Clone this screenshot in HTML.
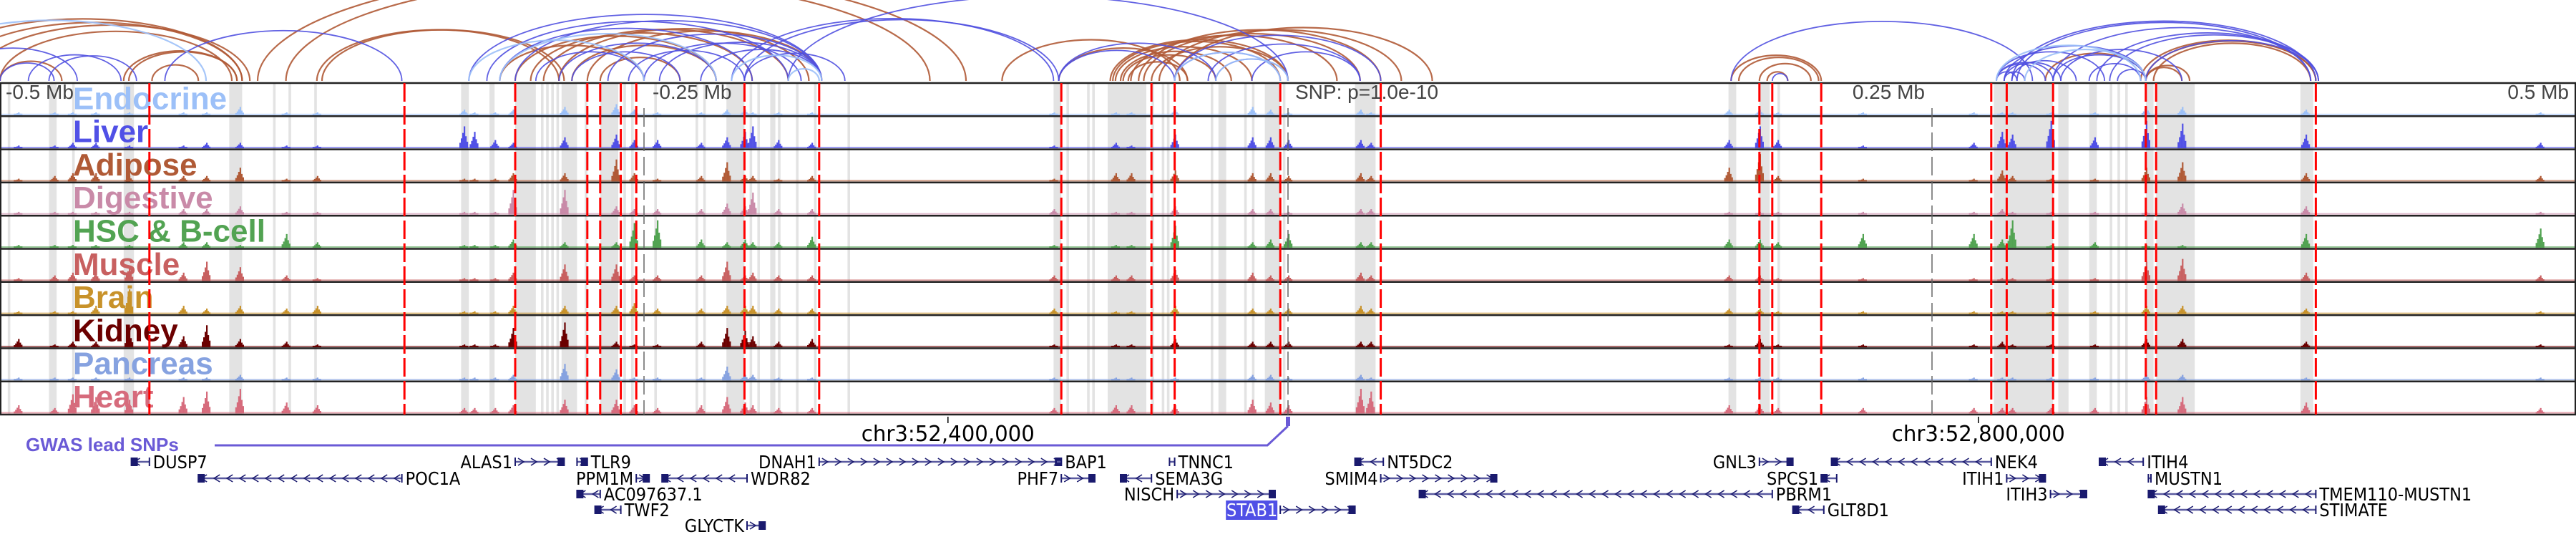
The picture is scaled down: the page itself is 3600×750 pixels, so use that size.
<!DOCTYPE html>
<html><head><meta charset="utf-8">
<style>
html,body{margin:0;padding:0;background:#fff;}
svg{display:block;}
text{font-family:"Liberation Sans","DejaVu Sans",sans-serif;}
.nar{font-family:"Liberation Sans Narrow","DejaVu Sans Condensed","Liberation Sans",sans-serif;}
</style></head>
<body>
<svg id="chart" width="3600" height="750" viewBox="0 0 3600 750" xmlns="http://www.w3.org/2000/svg">
<g id="bands"></g>
<g id="arcs"></g>
<g id="tracks"></g>
<g id="snplines"></g>
<g id="axis"></g>
<g id="genes"></g>
</svg>
<script>
// ---- data (positions in kb relative to lead SNP) ----
const trackNames = ["Endocrine","Liver","Adipose","Digestive","HSC & B-cell","Muscle","Brain","Kidney","Pancreas","Heart"];
const trackColors = ["#9cc0f8","#5050e6","#b05a36","#c98aa8","#52a352","#c86060","#c8922a","#6b0000","#86a2e0","#d66b7c"];
const peakPos = [-493,-479,-472,-463,-450,-429,-420,-407,-389,-377,-320,-316,-308,-301,-281,-261,-254,-245,-228,-218,-211,-208,-198,-185,-91,-67,-61,-44,-14,-7,0,28,32,171,183,190,223,266,277,281,296,313,333,347,395,486];
const hEndocrine = [1,1,1,1,1,1,1,3,1,1,2,1,1,2,3,4,2,1,1,2,2,1,1,1,1,1,1,2,3,2,1,2,1,2,2,1,1,1,1,1,1,1,3,3,2,1];
const hLiver     = [1,1,2,2,1,1,2,2,1,1,8,6,3,2,4,5,3,3,2,4,6,8,3,2,1,2,1,5,4,4,3,3,2,3,8,3,1,2,6,5,10,4,10,9,5,2];
const hAdipose   = [1,2,3,3,2,2,2,5,1,2,1,1,1,3,3,8,3,1,2,7,2,2,1,2,1,3,3,4,3,3,2,3,2,5,10,2,1,1,4,2,1,1,5,7,3,2];
const hDigestive = [1,1,1,1,1,2,2,3,1,1,1,1,1,9,9,3,2,2,2,4,3,8,2,2,2,1,1,3,2,2,1,2,2,1,1,1,1,1,2,1,1,1,1,4,3,1];
const hHSC       = [1,1,1,1,1,2,2,1,5,2,1,1,1,3,2,2,9,10,3,2,3,2,2,4,1,1,1,8,2,3,5,2,2,3,3,2,5,5,3,10,1,2,1,1,5,7];
const hMuscle    = [1,2,3,3,5,3,7,5,2,1,1,1,1,3,6,6,2,2,2,7,2,3,2,2,2,2,2,4,3,2,2,3,2,2,2,1,1,1,1,1,1,1,7,8,3,2];
const hBrain     = [1,1,1,3,9,3,2,3,2,3,1,1,1,3,3,3,4,2,2,3,3,3,2,2,2,1,1,3,2,2,2,3,2,2,2,1,1,1,1,1,1,1,3,3,2,1];
const hKidney    = [3,1,2,2,6,4,8,3,2,1,1,1,1,7,9,2,1,1,2,7,6,4,2,3,1,1,1,3,2,2,2,2,2,1,3,1,1,1,2,1,1,1,3,3,2,1];
const hPancreas  = [1,1,1,1,1,1,1,2,1,1,1,1,1,2,6,4,1,1,1,5,2,2,1,1,1,1,1,1,2,2,1,2,1,1,1,1,1,1,1,1,1,1,2,2,1,1];
const hHeart     = [3,2,7,6,5,6,8,9,4,3,2,2,2,3,5,5,3,2,3,6,4,3,2,2,2,3,3,3,5,4,3,9,8,3,3,2,2,2,2,2,2,2,6,6,4,2];
const trackHeights = [hEndocrine,hLiver,hAdipose,hDigestive,hHSC,hMuscle,hBrain,hKidney,hPancreas,hHeart];
const snpPos = [-442,-343,-300,-272,-267,-259,-253,-211,-182,-88,-53,-44,-3,36,183,188,207,273,279,297,333,337,399];
const bandStart = [-497,-481,-472,-452,-411,-394,-388,-378,-321,-310,-300,-290,-288,-286,-284,-282,-273,-267,-258,-255,-246,-230,-227,-218,-209,-206,-201,-198,-191,-184,-171,-91,-86,-78,-76,-70,-53,-49,-47,-30,-27,-17,-14,-9,-2,26,171,183,190,274,299,311,319,322,325,333,337,393];
const bandEnd   = [-496,-478,-471,-448,-406,-393,-387,-377,-318,-308,-292,-289,-287,-285,-283,-276,-272,-260,-257,-254,-245,-229,-226,-211,-208,-205,-199,-197,-190,-183,-170,-88,-85,-77,-75,-55,-52,-48,-46,-29,-24,-16,-13,-3,-1,34,174,187,191,297,303,314,320,323,326,336,352,398];
const arcE = [[-540,-420],[-318,-250],[-306,-222],[-216,-181],[-194,-182],[-44,-3],[-28,0],[275,331],[286,333]];
const arcA = [[-530,-406],[-520,-406],[-510,-403],[-500,-410],[-452,-408],[-450,-408],[-441,-423],[-500,-476],[-377,-283],[-375,-281],[-389,-139],[-400,-125],[-306,-250],[-300,-222],[-294,-208],[-289,-194],[-283,-186],[-278,-222],[-272,-181],[-267,-236],[-69,0],[-68,-3],[-67,-14],[-65,-22],[-64,-28],[-62,-39],[-61,19],[-58,36],[-56,28],[-53,0],[-50,44],[-44,56],[-89,-39],[-111,-42],[172,207],[175,206],[183,203],[186,194],[294,333],[333,347],[333,350],[331,399],[333,399],[336,397]];
const arcL = [[-500,-479],[-489,-453],[-481,-447],[-436,-344],[-520,-470],[-318,-181],[-311,-194],[-306,-208],[-300,-181],[-292,-250],[-283,-222],[-278,-236],[-264,-181],[-256,-211],[-250,-189],[-244,-181],[-228,-181],[-211,-172],[-216,-91],[-211,-89],[-194,0],[-89,-44],[-89,-28],[-44,-3],[-31,28],[-28,0],[-14,28],[-44,36],[172,289],[188,194],[275,297],[275,294],[278,300],[281,306],[275,317],[278,333],[297,333],[300,347],[314,400],[319,400],[333,400],[281,399],[283,397],[297,397],[311,331],[322,333],[275,283],[278,286]];
const axisTicks = [-500,-250,0,250,500];
const axisLabels = ["-0.5 Mb","-0.25 Mb","SNP: p=1.0e-10","0.25 Mb","0.5 Mb"];
const chrTicks = [-132,268];
const chrLabels = ["chr3:52,400,000","chr3:52,800,000"];
const geneNames  = ["DUSP7","POC1A","ALAS1","TLR9","PPM1M","AC097637.1","TWF2","WDR82","GLYCTK","DNAH1","BAP1","PHF7","TNNC1","SEMA3G","NISCH","STAB1","NT5DC2","SMIM4","PBRM1","GNL3","SPCS1","GLT8D1","NEK4","ITIH1","ITIH3","ITIH4","MUSTN1","TMEM110-MUSTN1","STIMATE"];
const geneStart  = [-449,-423,-300,-276,-253,-276,-269,-243,-210,-182,-90,-88,-46,-65,-43,-3,26,36,51,183,207,196,211,279,296,315,334,334,338];
const geneEnd    = [-442,-344,-281,-272,-248,-267,-259,-210,-203,-88,-88,-75,-44,-53,-5,26,37,81,188,196,213,208,273,294,310,332,335,399,399];
const geneRow    = [0,1,0,0,1,2,3,1,4,0,0,1,0,1,2,3,0,1,2,0,1,3,0,1,2,0,1,2,3];
const geneStrand = [-1,-1,1,1,1,-1,-1,-1,1,1,-1,1,-1,-1,1,1,-1,1,-1,1,-1,-1,-1,1,1,-1,-1,-1,-1];
const geneLabelLeft = [0,0,1,0,1,0,0,0,1,1,0,1,0,0,1,1,0,1,0,1,1,0,0,1,1,0,0,0,0];

// ---- scales ----
const NS="http://www.w3.org/2000/svg";
const X0=1800, PXKB=3.6;
function xs(kb){return X0+kb*PXKB;}
const TOP=116, TH=46.3, NT=10, BOT=TOP+TH*NT;
const ARCBASE=113;
const ROWY=[645,668,690,712,734];
function mk(tag,attrs,parent){const e=document.createElementNS(NS,tag);for(const k in attrs)e.setAttribute(k,attrs[k]);parent.appendChild(e);return e;}

// bands
const gB=document.getElementById('bands');
bandStart.forEach((s,i)=>{
  const r=mk('rect',{x:xs(s),y:TOP,width:Math.max(3,xs(bandEnd[i])-xs(s)),height:BOT-TOP,fill:'#e3e3e3'},gB);
  
  
});

// arcs
const gA=document.getElementById('arcs');
function drawArcs(list,color,w,name){
  list.forEach(a=>{
    const x1=xs(a[0]),x2=xs(a[1]);const span=x2-x1;
    const h=1.21*Math.pow(span,0.7);
    const p=mk('path',{d:`M${x1},${ARCBASE} A${span/2},${h} 0 0 1 ${x2},${ARCBASE}`,fill:'none',stroke:color,'stroke-width':w,opacity:0.9},gA);
    
    
  });
}
drawArcs(arcA,'#b05a36',2.2,'adipose-arc');
drawArcs(arcL,'#5050e0',1.8,'liver-arc');
drawArcs(arcE,'#9cc0f8',2.2,'endocrine-arc');

// tracks
const gT=document.getElementById('tracks');
trackNames.forEach((nm,t)=>{
  const y0=TOP+t*TH, yb=y0+TH-1.5, col=trackColors[t], hs=trackHeights[t];
  const g=mk('g',{},gT);
  
  
  const base=mk('rect',{x:0,y:yb-2,width:3600,height:2,fill:col,opacity:0.6},g);
  
  
  const unit=(TH-8)/10;
  peakPos.forEach((p,i)=>{
    const h=hs[i]*unit, cx=xs(p);
    const parts=[[-6,0.25],[-4,0.45],[-2,0.7],[0,1],[2,0.55],[4,0.3]];
    parts.forEach(q=>{
      const hh=Math.max(2,h*q[1]);
      const b=mk('rect',{x:cx+q[0],y:yb-hh,width:2.2,height:hh,fill:col},g);
      
      
    });
  });
  const lab=mk('text',{x:102,y:y0+TH-10,fill:col,'font-size':44,'font-weight':'bold'},g);
  lab.textContent=nm;
  
  
  const ln=mk('line',{x1:0,x2:3600,y1:y0,y2:y0,stroke:'#222','stroke-width':2.5},g);
  
  
});
const bl=mk('line',{x1:0,x2:3600,y1:BOT,y2:BOT,stroke:'#222','stroke-width':2.5},gT);


mk('line',{x1:1,x2:1,y1:TOP,y2:BOT,stroke:'#222','stroke-width':2},gT);
mk('line',{x1:3599,x2:3599,y1:TOP,y2:BOT,stroke:'#222','stroke-width':2},gT);

// axis
const gX=document.getElementById('axis');
axisTicks.forEach((t,i)=>{
  const x=xs(t);
  if(i>0&&i<4){
    const l=mk('line',{x1:x,x2:x,y1:TOP+35,y2:BOT,stroke:'#666','stroke-width':1.5,'stroke-dasharray':'26 8'},gX);
    
    
  }
  let anchor='start',tx=x+10;
  if(i===0){tx=8;}
  if(i===1){tx=x+12;}
  if(i===3||i===4){anchor='end';tx=x-10;}
  const tt=mk('text',{x:tx,y:138,'font-size':28,fill:'#444','text-anchor':anchor},gX);
  tt.textContent=axisLabels[i];
  
  
});
chrTicks.forEach((c,i)=>{
  const x=xs(c);
  mk('line',{x1:x,x2:x,y1:582,y2:591,stroke:'#000','stroke-width':1.5},gX);
  const tt=mk('text',{x:x,y:616,'font-size':30,fill:'#000','text-anchor':'middle',class:'nar',textLength:242,lengthAdjust:'spacingAndGlyphs'},gX);
  tt.textContent=chrLabels[i];
  
  
});

// snp lines
const gS=document.getElementById('snplines');
snpPos.forEach(p=>{
  const l=mk('line',{x1:xs(p),x2:xs(p),y1:TOP,y2:BOT,stroke:'#ff0000','stroke-width':3,'stroke-dasharray':'26 6'},gS);
  
  
});
const gw=mk('text',{x:36,y:630,'font-size':26,'font-weight':'bold',fill:'#6a5ad6'},gS);
gw.textContent='GWAS lead SNPs';


const gl=mk('path',{d:`M300,622 L${xs(-8)},622 L${xs(0)},595`,fill:'none',stroke:'#6a5ad6','stroke-width':3},gS);


const gm=mk('rect',{x:xs(0)-3,y:582,width:6,height:13,fill:'#6a5ad6'},gS);



// genes
const gG=document.getElementById('genes');
geneNames.forEach((n,i)=>{
  const x1=xs(geneStart[i]),x2=xs(geneEnd[i]),y=ROWY[geneRow[i]];
  const g=mk('g',{},gG);
  
  
  mk('line',{x1:x1,x2:x2,y1:y,y2:y,stroke:'#5a5aa0','stroke-width':2.5},g);
  const dir=geneStrand[i];
  for(let x=x1+8;x<x2-4;x+=18){
    mk('path',{d:`M${x-4*dir},${y-5} L${x+4*dir},${y} L${x-4*dir},${y+5}`,fill:'none',stroke:'#1a1a6e','stroke-width':1.6},g);
  }
  mk('line',{x1:x1,x2:x1,y1:y-6,y2:y+6,stroke:'#1a1a6e','stroke-width':2},g);
  mk('line',{x1:x2,x2:x2,y1:y-6,y2:y+6,stroke:'#1a1a6e','stroke-width':2},g);
  const sqx=dir<0?x1:x2-9;
  if(x2-x1>12) mk('rect',{x:sqx,y:y-6,width:9,height:12,fill:'#1a1a6e'},g);
  let tx,anchor;
  if(geneLabelLeft[i]){tx=x1-4;anchor='end';}else{tx=x2+5;anchor='start';}
  if(n==='STAB1'){
    const w=72;
    mk('rect',{x:tx-w,y:y-13,width:w,height:27,fill:'#5050e6'},g);
  }
  const t=mk('text',{x:tx,y:y+9,'font-size':25,'text-anchor':anchor,fill:n==='STAB1'?'#fff':'#000',class:'nar'},g);
  t.textContent=n;
});
</script>
</body></html>
